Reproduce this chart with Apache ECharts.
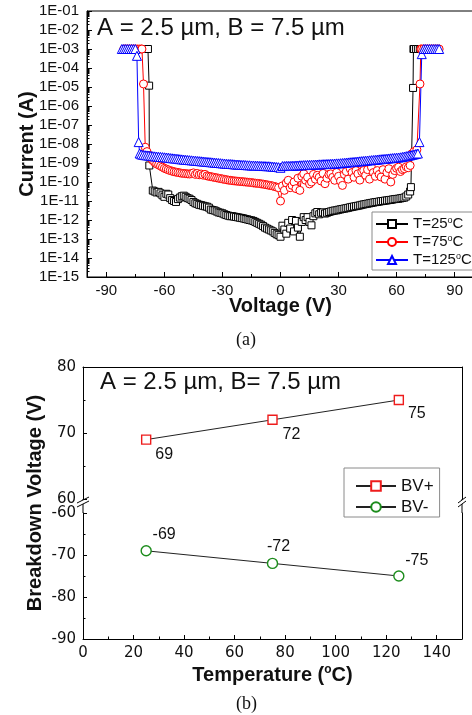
<!DOCTYPE html>
<html>
<head>
<meta charset="utf-8">
<title>Leakage current and breakdown voltage vs temperature</title>
<script src="https://cdn.jsdelivr.net/npm/echarts@6/dist/echarts.min.js"></script>
<style>
  html, body { margin: 0; padding: 0; background: #fff; }
  #chart { width: 472px; height: 715px; }
</style>
</head>
<body>
<div id="chart"></div>
<script>
// ---------------- Panel (a): I–V sweeps, current stored as log10(I / A) ----------------
const curve25 = [
  [-80,-3],[-79,-3],[-78,-3],[-77,-3],[-76,-3],[-75,-3],[-74,-3],[-73,-3],[-72,-3],[-71,-3],[-70,-3],[-69,-3],[-68.5,-3],[-67.9,-4.93],[-67.8,-9.13],
  [-66,-10.45],[-65,-10.5],[-64,-10.55],[-63,-10.52],[-62,-10.6],[-61,-10.7],[-60,-10.78],[-59,-10.62],[-58,-10.66],[-57,-10.85],
  [-56,-10.95],[-55,-11.0],[-54,-11.05],[-53,-10.9],[-52,-10.82],[-51,-10.75],[-50,-10.72],[-49,-10.78],[-48,-10.85],[-47,-10.88],
  [-46,-10.95],[-45,-11.05],[-44,-11.12],[-43,-11.15],[-42,-11.2],[-41,-11.22],[-40,-11.25],[-39,-11.28],[-38,-11.3],[-37,-11.35],
  [-36,-11.45],[-35,-11.48],[-34,-11.5],[-33,-11.55],[-32,-11.6],[-31,-11.62],[-30,-11.65],[-29,-11.7],[-28,-11.74],[-27,-11.77],
  [-26,-11.8],[-25,-11.8],[-24,-11.82],[-23,-11.84],[-22,-11.86],[-21,-11.88],[-20,-11.9],[-19,-11.92],[-18,-11.95],[-17,-11.97],
  [-16,-12.0],[-15,-12.02],[-14,-12.05],[-13,-12.1],[-12,-12.15],[-11,-12.2],[-10,-12.25],[-9,-12.32],[-8,-12.4],[-7,-12.45],
  [-6,-12.5],[-5,-12.55],[-4,-12.6],[-3,-12.68],[-2,-12.75],[-1,-12.8],[0,-12.88],
  [1,-12.3],[2,-12.5],[3,-12.72],[4,-12.15],[5,-12.45],[6,-12.0],[7,-12.6],[8,-12.05],[9,-12.4],[10,-12.88],
  [11,-12.1],[12,-11.85],[13,-12.0],[14,-11.85],[15,-12.1],[16,-12.28],[17,-11.8],[18,-11.65],[19,-11.58],[20,-11.7],
  [21,-11.62],[22,-11.6],[23,-11.66],[24,-11.62],[25,-11.58],[26,-11.55],[27,-11.52],[28,-11.5],[29,-11.49],[30,-11.46],
  [31,-11.44],[32,-11.42],[33,-11.4],[34,-11.38],[35,-11.36],[36,-11.33],[37,-11.31],[38,-11.29],[39,-11.27],[40,-11.25],
  [41,-11.23],[42,-11.2],[43,-11.18],[44,-11.16],[45,-11.14],[46,-11.12],[47,-11.1],[48,-11.08],[49,-11.06],[50,-11.05],
  [51,-11.03],[52,-11.01],[53,-11.0],[54,-10.98],[55,-10.97],[56,-10.95],[57,-10.94],[58,-10.92],[59,-10.9],[60,-10.89],
  [61,-10.88],[62,-10.86],[63,-10.84],[64,-10.82],[65,-10.76],[66,-10.66],[67,-10.5],[67.4,-10.27],
  [68.5,-5.05],[68.7,-3],[69,-3],[70,-3],[71,-3],[72,-3],[73,-3]
];

const curve75 = [
  [-81,-3],[-80,-3],[-79,-3],[-78,-3],[-77,-3],[-76,-3],[-75,-3],[-74,-3],[-73,-3],[-72,-3],[-71.6,-3],[-70.8,-4.84],[-69.9,-8.17],
  [-69,-8.4],[-68,-8.6],[-67,-8.75],[-66,-8.87],[-65,-8.97],[-64,-9.05],[-63,-9.1],[-62,-9.16],[-61,-9.22],[-60,-9.28],
  [-59,-9.32],[-58,-9.36],[-57,-9.4],[-56,-9.43],[-55,-9.46],[-54,-9.48],[-53,-9.5],[-52,-9.52],[-51,-9.54],[-50,-9.55],
  [-49,-9.56],[-48,-9.57],[-47,-9.58],[-46,-9.56],[-45,-9.52],[-44,-9.6],[-43,-9.55],[-42,-9.62],[-41,-9.58],[-40,-9.64],
  [-39,-9.6],[-38,-9.68],[-37,-9.7],[-36,-9.72],[-35,-9.74],[-34,-9.76],[-33,-9.78],[-32,-9.8],[-31,-9.82],[-30,-9.84],
  [-29,-9.86],[-28,-9.88],[-27,-9.9],[-26,-9.91],[-25,-9.93],[-24,-9.94],[-23,-9.95],[-22,-9.96],[-21,-9.97],[-20,-9.98],
  [-19,-9.99],[-18,-10.0],[-17,-10.01],[-16,-10.02],[-15,-10.03],[-14,-10.05],[-13,-10.06],[-12,-10.07],[-11,-10.08],[-10,-10.1],
  [-9,-10.11],[-8,-10.13],[-7,-10.15],[-6,-10.17],[-5,-10.19],[-4,-10.21],[-3,-10.24],[-2,-10.27],[-1,-10.3],[0,-11.0],
  [1,-10.2],[2,-10.44],[3,-10.05],[4,-9.91],[5,-10.3],[6,-10.18],[7,-10.0],[8,-10.35],[9,-9.8],[10,-10.44],
  [11,-9.7],[12,-9.57],[13,-9.91],[14,-9.75],[15,-10.1],[16,-10.0],[17,-9.6],[18,-9.85],[19,-9.65],[20,-9.75],
  [21,-9.95],[22,-9.55],[23,-10.09],[24,-9.8],[25,-9.6],[26,-9.57],[27,-9.75],[28,-9.91],[29,-9.5],[30,-9.7],
  [31,-9.95],[32,-10.18],[33,-9.6],[34,-9.45],[35,-9.85],[36,-9.3],[37,-9.5],[38,-9.75],[39,-9.4],[40,-9.57],
  [41,-9.9],[42,-9.45],[43,-9.39],[44,-9.65],[45,-9.35],[46,-9.85],[47,-9.22],[48,-9.5],[49,-9.7],[50,-9.4],
  [51,-9.6],[52,-9.74],[53,-9.35],[54,-9.85],[55,-9.5],[56,-9.3],[57,-10.0],[58,-9.6],[59,-9.4],[60,-9.28],
  [61,-9.22],[62,-9.45],[63,-9.35],[64,-9.3],[65,-9.2],[66,-9.25],[67,-9.13],[67.8,-8.52],[69,-8.4],[70.5,-8.3],
  [72.1,-4.84],[72.5,-3],[73,-3],[74,-3],[75,-3],[76,-3],[77,-3],[78,-3],[79,-3],[80,-3],[81,-3],[82,-3]
];

const curve125 = [
  [-82,-3],[-81,-3],[-80,-3],[-79,-3],[-78,-3],[-77,-3],[-76,-3],[-75,-3],[-74.2,-3.36],[-73.3,-7.9],[-72.8,-8.5],
  [-72,-8.55],[-71,-8.57],[-70,-8.59],[-69,-8.6],[-68,-8.61],[-67,-8.62],[-66,-8.64],[-65,-8.65],[-64,-8.66],[-63,-8.67],
  [-62,-8.68],[-61,-8.69],[-60,-8.7],[-59,-8.71],[-58,-8.72],[-57,-8.74],[-56,-8.75],[-55,-8.76],[-54,-8.77],[-53,-8.78],
  [-52,-8.8],[-51,-8.81],[-50,-8.82],[-49,-8.83],[-48,-8.84],[-47,-8.85],[-46,-8.86],[-45,-8.87],[-44,-8.88],[-43,-8.89],
  [-42,-8.9],[-41,-8.91],[-40,-8.92],[-39,-8.93],[-38,-8.94],[-37,-8.95],[-36,-8.96],[-35,-8.97],[-34,-8.98],[-33,-8.99],
  [-32,-9.0],[-31,-9.01],[-30,-9.02],[-29,-9.03],[-28,-9.04],[-27,-9.05],[-26,-9.05],[-25,-9.06],[-24,-9.07],[-23,-9.08],
  [-22,-9.08],[-21,-9.09],[-20,-9.1],[-19,-9.1],[-18,-9.11],[-17,-9.12],[-16,-9.12],[-15,-9.13],[-14,-9.13],[-13,-9.14],
  [-12,-9.14],[-11,-9.15],[-10,-9.15],[-9,-9.16],[-8,-9.16],[-7,-9.17],[-6,-9.17],[-5,-9.18],[-4,-9.19],[-3,-9.2],
  [-2,-9.21],[-1,-9.22],[0,-9.25],
  [1,-9.16],[2,-9.16],[3,-9.15],[4,-9.15],[5,-9.15],[6,-9.14],[7,-9.14],[8,-9.13],[9,-9.13],[10,-9.12],
  [11,-9.12],[12,-9.11],[13,-9.11],[14,-9.1],[15,-9.1],[16,-9.09],[17,-9.09],[18,-9.08],[19,-9.08],[20,-9.07],
  [21,-9.07],[22,-9.06],[23,-9.06],[24,-9.05],[25,-9.05],[26,-9.04],[27,-9.04],[28,-9.03],[29,-9.02],[30,-9.02],
  [31,-9.01],[32,-9.0],[33,-8.99],[34,-8.98],[35,-8.97],[36,-8.96],[37,-8.95],[38,-8.94],[39,-8.93],[40,-8.92],
  [41,-8.91],[42,-8.9],[43,-8.89],[44,-8.88],[45,-8.87],[46,-8.86],[47,-8.85],[48,-8.84],[49,-8.83],[50,-8.82],
  [51,-8.81],[52,-8.8],[53,-8.79],[54,-8.78],[55,-8.77],[56,-8.76],[57,-8.75],[58,-8.74],[59,-8.73],[60,-8.72],
  [61,-8.71],[62,-8.7],[63,-8.68],[64,-8.66],[65,-8.64],[66,-8.62],[67,-8.6],[68,-8.57],[69,-8.55],[70,-8.52],
  [71,-8.5],[71.8,-7.9],[73,-3.27],[74,-3],[75,-3],[76,-3],[77,-3],[78,-3],[79,-3],[80,-3],[81,-3],[82,-3]
];

const sweepNames = ['T=25°C', 'T=75°C', 'T=125°C'];
const voltTicks = [-90, -60, -30, 0, 30, 60, 90];
const voltMinorTicks = [-75, -45, -15, 15, 45, 75];
const decadeTicks = [-15, -14, -13, -12, -11, -10, -9, -8, -7, -6, -5, -4, -3, -2, -1];

// ---------------- Panel (b): breakdown voltage vs temperature ----------------
const tempC = [25, 75, 125];
const bvPlus = [69, 72, 75];
const bvMinus = [-69, -72, -75];
const bvNames = ['BV+', 'BV-'];
const tempTicks = [0, 20, 40, 60, 80, 100, 120, 140];
const tempMinorTicks = [10, 30, 50, 70, 90, 110, 130];

// ---------------- layout ----------------
const gridA = { left: 87, top: 11, width: 387, height: 266 };
const gridBTop = { left: 83, top: 367, width: 379, height: 132 };
const gridBBot = { left: 83, top: 513, width: 379, height: 126 };

const SANS = '"Liberation Sans", Arial, Helvetica, sans-serif';
const WIDE = '"DejaVu Sans", "Liberation Sans", sans-serif';
const SERIF = '"Liberation Serif", "Times New Roman", serif';
const INK = '#111';

// log-decade minor tick positions (2..9 x 10^n) in exponent space
const logMinorTicks = [];
decadeTicks.slice(0, -1).forEach(function (n) {
  for (let k = 2; k <= 9; k++) logMinorTicks.push(n + Math.log10(k));
});

function decadeLabel(v) {
  const e = Math.round(v);
  return '1E' + (e < 0 ? '-' : '+') + String(Math.abs(e)).padStart(2, '0');
}

const supRich = {
  sup: { fontSize: 9, lineHeight: 9, verticalAlign: 'top', fontFamily: SANS, color: INK }
};

const HIDDEN_LINE = { show: false, onZero: false };

function lineAxisBase(extra) {
  return Object.assign({
    type: 'value',
    splitLine: { show: false },
    axisLine: { show: true, onZero: false, lineStyle: { color: '#000', width: 1 } },
    axisTick: { show: false },
    axisLabel: { show: false },
    nameMoveOverlap: false
  }, extra);
}

const sweepStyles = [
  { color: '#000000', symbol: 'rect', size: 7 },
  { color: '#ff0000', symbol: 'circle', size: 8 },
  { color: '#0000ff', symbol: 'triangle', size: 9 }
];
const sweepData = [curve25, curve75, curve125];

const sweepSeries = sweepData.map(function (curve, i) {
  const st = sweepStyles[i];
  return {
    name: sweepNames[i],
    type: 'line',
    xAxisIndex: 0,
    yAxisIndex: 0,
    data: curve,
    symbol: st.symbol,
    symbolSize: st.size,
    showSymbol: true,
    itemStyle: { color: '#ffffff', borderColor: st.color, borderWidth: 1 },
    lineStyle: { color: st.color, width: 1 },
    emphasis: { disabled: true },
    animation: false
  };
});

const bvPlusLabelOffset = [[18, 15], [19, 15], [18, 14]];
const bvMinusLabelOffset = [[18, -16], [6, -17], [18, -15]];

const bvLabel = {
  show: true,
  position: 'inside',
  fontSize: 16,
  fontFamily: SANS,
  color: INK,
  formatter: function (p) { return String(p.value[1]); }
};

const option = {
  backgroundColor: '#ffffff',
  animation: false,
  textStyle: { fontFamily: SANS },
  grid: [
    Object.assign({ show: true, borderColor: '#000', borderWidth: 1, backgroundColor: 'transparent',
                    containLabel: false, outerBoundsMode: 'none' }, gridA),
    Object.assign({ show: false, containLabel: false, outerBoundsMode: 'none' }, gridBTop),
    Object.assign({ show: false, containLabel: false, outerBoundsMode: 'none' }, gridBBot)
  ],
  legend: [
    {
      data: sweepNames,
      orient: 'vertical',
      left: 372, top: 212,
      itemWidth: 32, itemHeight: 10, itemGap: 2,
      padding: [4, 12, 2, 3],
      borderColor: '#8a8a8a', borderWidth: 1,
      backgroundColor: '#fff',
      selectedMode: false,
      textStyle: { fontSize: 15, lineHeight: 16, color: INK, fontFamily: SANS, rich: supRich },
      formatter: function (name) { return name.replace('°', '{sup|o}'); }
    },
    {
      data: bvNames,
      orient: 'vertical',
      left: 344, top: 468,
      itemWidth: 40, itemHeight: 12, itemGap: 3,
      padding: [9, 6, 1, 11],
      borderColor: '#8a8a8a', borderWidth: 1,
      selectedMode: false,
      textStyle: { fontSize: 17, lineHeight: 18, color: INK, fontFamily: SANS }
    }
  ],
  xAxis: [
    // (a) voltage axis
    lineAxisBase({
      gridIndex: 0, position: 'bottom', min: -100, max: 100,
      axisTick: { show: true, inside: true, length: 5, customValues: voltTicks, lineStyle: { color: '#000' } },
      axisLabel: { show: true, customValues: voltTicks, fontSize: 15, color: INK, margin: 6, fontFamily: SANS },
      name: 'Voltage (V)', nameLocation: 'middle', nameGap: 19,
      nameTextStyle: { fontSize: 20, fontWeight: 'bold', color: INK, fontFamily: SANS }
    }),
    // (a) voltage minor ticks
    lineAxisBase({
      gridIndex: 0, position: 'bottom', min: -100, max: 100,
      axisLine: HIDDEN_LINE,
      axisTick: { show: true, inside: true, length: 3, customValues: voltMinorTicks, lineStyle: { color: '#000' } }
    }),
    // (b) upper segment frame (top edge)
    lineAxisBase({ gridIndex: 1, position: 'top', min: 0, max: 150 }),
    // (b) temperature axis
    lineAxisBase({
      gridIndex: 2, position: 'bottom', min: 0, max: 150,
      axisTick: { show: true, inside: true, length: 4, customValues: tempTicks, lineStyle: { color: '#000' } },
      axisLabel: { show: true, customValues: tempTicks, fontSize: 15, color: INK, margin: 7, fontFamily: WIDE },
      name: 'Temperature ({sup|o}C)', nameLocation: 'middle', nameGap: 25,
      nameTextStyle: {
        fontSize: 20, fontWeight: 'bold', color: INK, fontFamily: SANS, lineHeight: 22,
        rich: { sup: { fontSize: 12, lineHeight: 12, fontWeight: 'bold', verticalAlign: 'top', color: INK, fontFamily: SANS } }
      }
    }),
    // (b) temperature minor ticks
    lineAxisBase({
      gridIndex: 2, position: 'bottom', min: 0, max: 150,
      axisLine: HIDDEN_LINE,
      axisTick: { show: true, inside: true, length: 2.5, customValues: tempMinorTicks, lineStyle: { color: '#000' } }
    })
  ],
  yAxis: [
    // (a) current, decades in exponent space
    lineAxisBase({
      gridIndex: 0, position: 'left', min: -15, max: -1, interval: 1,
      axisTick: { show: true, inside: true, length: 5, customValues: decadeTicks, lineStyle: { color: '#000' } },
      axisLabel: { show: true, customValues: decadeTicks, fontSize: 15, color: INK, margin: 8, fontFamily: SANS,
                   formatter: decadeLabel },
      name: 'Current (A)', nameLocation: 'middle', nameGap: 50,
      nameTextStyle: { fontSize: 20, fontWeight: 'bold', color: INK, fontFamily: SANS }
    }),
    // (a) log minor ticks
    lineAxisBase({
      gridIndex: 0, position: 'left', min: -15, max: -1,
      axisLine: HIDDEN_LINE,
      axisTick: { show: true, inside: true, length: 2.5, customValues: logMinorTicks, lineStyle: { color: '#000' } }
    }),
    // (b) upper segment 60..80
    lineAxisBase({
      gridIndex: 1, position: 'left', min: 60, max: 80, interval: 10,
      axisTick: { show: true, inside: true, length: 4, lineStyle: { color: '#000' } },
      minorTick: { show: true, splitNumber: 2, length: 2.5, lineStyle: { color: '#000' } },
      axisLabel: { show: true, fontSize: 15, color: INK, margin: 7, fontFamily: WIDE }
    }),
    lineAxisBase({ gridIndex: 1, position: 'right', min: 60, max: 80 }),
    // (b) lower segment -90..-60
    lineAxisBase({
      gridIndex: 2, position: 'left', min: -90, max: -60, interval: 10,
      axisTick: { show: true, inside: true, length: 4, lineStyle: { color: '#000' } },
      minorTick: { show: true, splitNumber: 2, length: 2.5, lineStyle: { color: '#000' } },
      axisLabel: { show: true, fontSize: 15, color: INK, margin: 7, fontFamily: WIDE }
    }),
    lineAxisBase({ gridIndex: 2, position: 'right', min: -90, max: -60 })
  ],
  series: sweepSeries.concat([
    {
      name: 'BV+',
      type: 'line',
      xAxisIndex: 2, yAxisIndex: 2,
      data: tempC.map(function (t, i) {
        return { value: [t, bvPlus[i]], label: { offset: bvPlusLabelOffset[i] } };
      }),
      symbol: 'rect', symbolSize: 9,
      itemStyle: { color: '#ffffff', borderColor: '#ee1c1c', borderWidth: 1.4 },
      lineStyle: { color: '#222', width: 1 },
      label: bvLabel,
      emphasis: { disabled: true }
    },
    {
      name: 'BV-',
      type: 'line',
      xAxisIndex: 3, yAxisIndex: 4,
      data: tempC.map(function (t, i) {
        return { value: [t, bvMinus[i]], label: { offset: bvMinusLabelOffset[i] } };
      }),
      symbol: 'circle', symbolSize: 10,
      itemStyle: { color: '#ffffff', borderColor: '#1c8c1c', borderWidth: 1.4 },
      lineStyle: { color: '#222', width: 1 },
      label: bvLabel,
      emphasis: { disabled: true }
    }
  ])
};

// Axis-break marks on the split voltage axis of panel (b)
function breakMarks(x, yGapTop, yGapBot, half) {
  const mid = (yGapTop + yGapBot) / 2 - 4;
  const s = { stroke: '#000', lineWidth: 1 };
  return [
    { type: 'line', shape: { x1: x, y1: yGapTop, x2: x, y2: mid - 2 }, style: s, silent: true },
    { type: 'line', shape: { x1: x, y1: mid + 2, x2: x, y2: yGapBot }, style: s, silent: true },
    { type: 'line', shape: { x1: x - half, y1: mid + 1, x2: x + half, y2: mid - 5 }, style: s, silent: true },
    { type: 'line', shape: { x1: x - half, y1: mid + 5, x2: x + half, y2: mid - 1 }, style: s, silent: true }
  ];
}

const gapTop = gridBTop.top + gridBTop.height;
const gapBot = gridBBot.top;

option.graphic = [
  { type: 'text', x: 97, y: 28.7, silent: true,
    style: { text: 'A = 2.5 µm, B = 7.5 µm', font: '24px ' + SANS, fill: INK, verticalAlign: 'middle' } },
  { type: 'text', x: 246, y: 340, silent: true,
    style: { text: '(a)', font: '18px ' + SERIF, fill: INK, align: 'center', verticalAlign: 'middle' } },
  { type: 'text', x: 100, y: 382.5, silent: true,
    style: { text: 'A = 2.5 µm, B= 7.5 µm', font: '24px ' + SANS, fill: INK, verticalAlign: 'middle' } },
  { type: 'text', x: 35.5, y: 503, rotation: Math.PI / 2, silent: true,
    style: { text: 'Breakdown Voltage (V)', font: 'bold 20px ' + SANS, fill: INK, align: 'center', verticalAlign: 'middle' } },
  { type: 'text', x: 246.5, y: 704.5, silent: true,
    style: { text: '(b)', font: '18px ' + SERIF, fill: INK, align: 'center', verticalAlign: 'middle' } }
].concat(
  breakMarks(gridBTop.left, gapTop, gapBot, 6),
  breakMarks(gridBTop.left + gridBTop.width, gapTop, gapBot, 4)
);

const chart = echarts.init(document.getElementById('chart'), null, { renderer: 'canvas' });
chart.setOption(option);
</script>
</body>
</html>
